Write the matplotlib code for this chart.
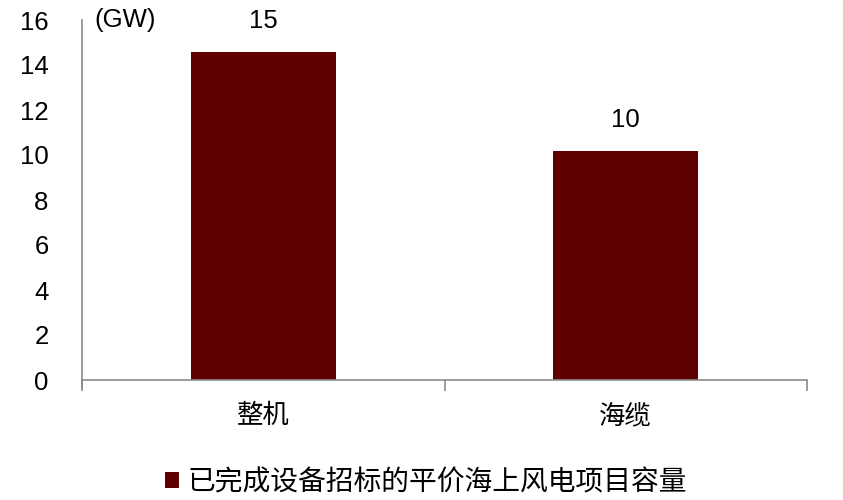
import matplotlib
matplotlib.use("Agg")
import matplotlib.pyplot as plt

plt.rcParams['font.family'] = ['Liberation Sans', 'Noto Sans CJK SC', 'DejaVu Sans']

categories = ['整机', '海缆']
values = [14.6, 10.2]
value_labels = ['15', '10']
series_name = '已完成设备招标的平价海上风电项目容量'
yticks = [0, 2, 4, 6, 8, 10, 12, 14, 16]

bar_color = '#600000'
axis_color = '#8c8c8c'
fs_num = 18.5
fs_cjk = 19
fs_leg = 20

fig = plt.figure(figsize=(8.43, 5.0), dpi=100)
ax = fig.add_axes([0.0973, 0.24, 0.86, 0.72])

x = list(range(len(categories)))
bars = ax.bar(x, values, width=0.4, color=bar_color, label=series_name, zorder=2)
ax.set_xlim(-0.5, len(categories) - 0.5)
ax.set_ylim(0, 16)
ax.set_yticks(yticks)
ax.set_yticklabels([str(t) for t in yticks], fontsize=fs_num)
ax.tick_params(axis='y', length=0, pad=24)
ax.set_xticks(x)
ax.set_xticklabels(categories, fontsize=fs_cjk, family=['Noto Sans CJK SC'])
ax.tick_params(axis='x', length=0, pad=16)
# boundary ticks on the category axis
ax.set_xticks([-0.5, 0.5, 1.5], minor=True)
ax.tick_params(axis='x', which='minor', length=8, color=axis_color, width=1.2)
ax.tick_params(axis='y', which='minor', length=0)

for s in ['top', 'right']:
    ax.spines[s].set_visible(False)
for s in ['left', 'bottom']:
    ax.spines[s].set_color(axis_color)
    ax.spines[s].set_linewidth(1.2)
ax.spines['left'].set_bounds(-0.35, 16)

for b, lab in zip(bars, value_labels):
    ax.annotate(lab, (b.get_x() + b.get_width() / 2, b.get_height()),
                xytext=(0, 13), textcoords='offset points', ha='center', va='bottom',
                fontsize=fs_num)

ax.text(0.017, 1.0, '(GW)', transform=ax.transAxes, fontsize=fs_num, ha='left', va='center')

leg = fig.legend(handles=[bars], labels=[series_name], loc='center', bbox_to_anchor=(0.505, 0.036),
                 frameon=False, prop={'family': ['Noto Sans CJK SC'], 'size': fs_leg},
                 handlelength=0.5, handleheight=0.5, handletextpad=0.3)

fig.savefig('out.png', dpi=100)
